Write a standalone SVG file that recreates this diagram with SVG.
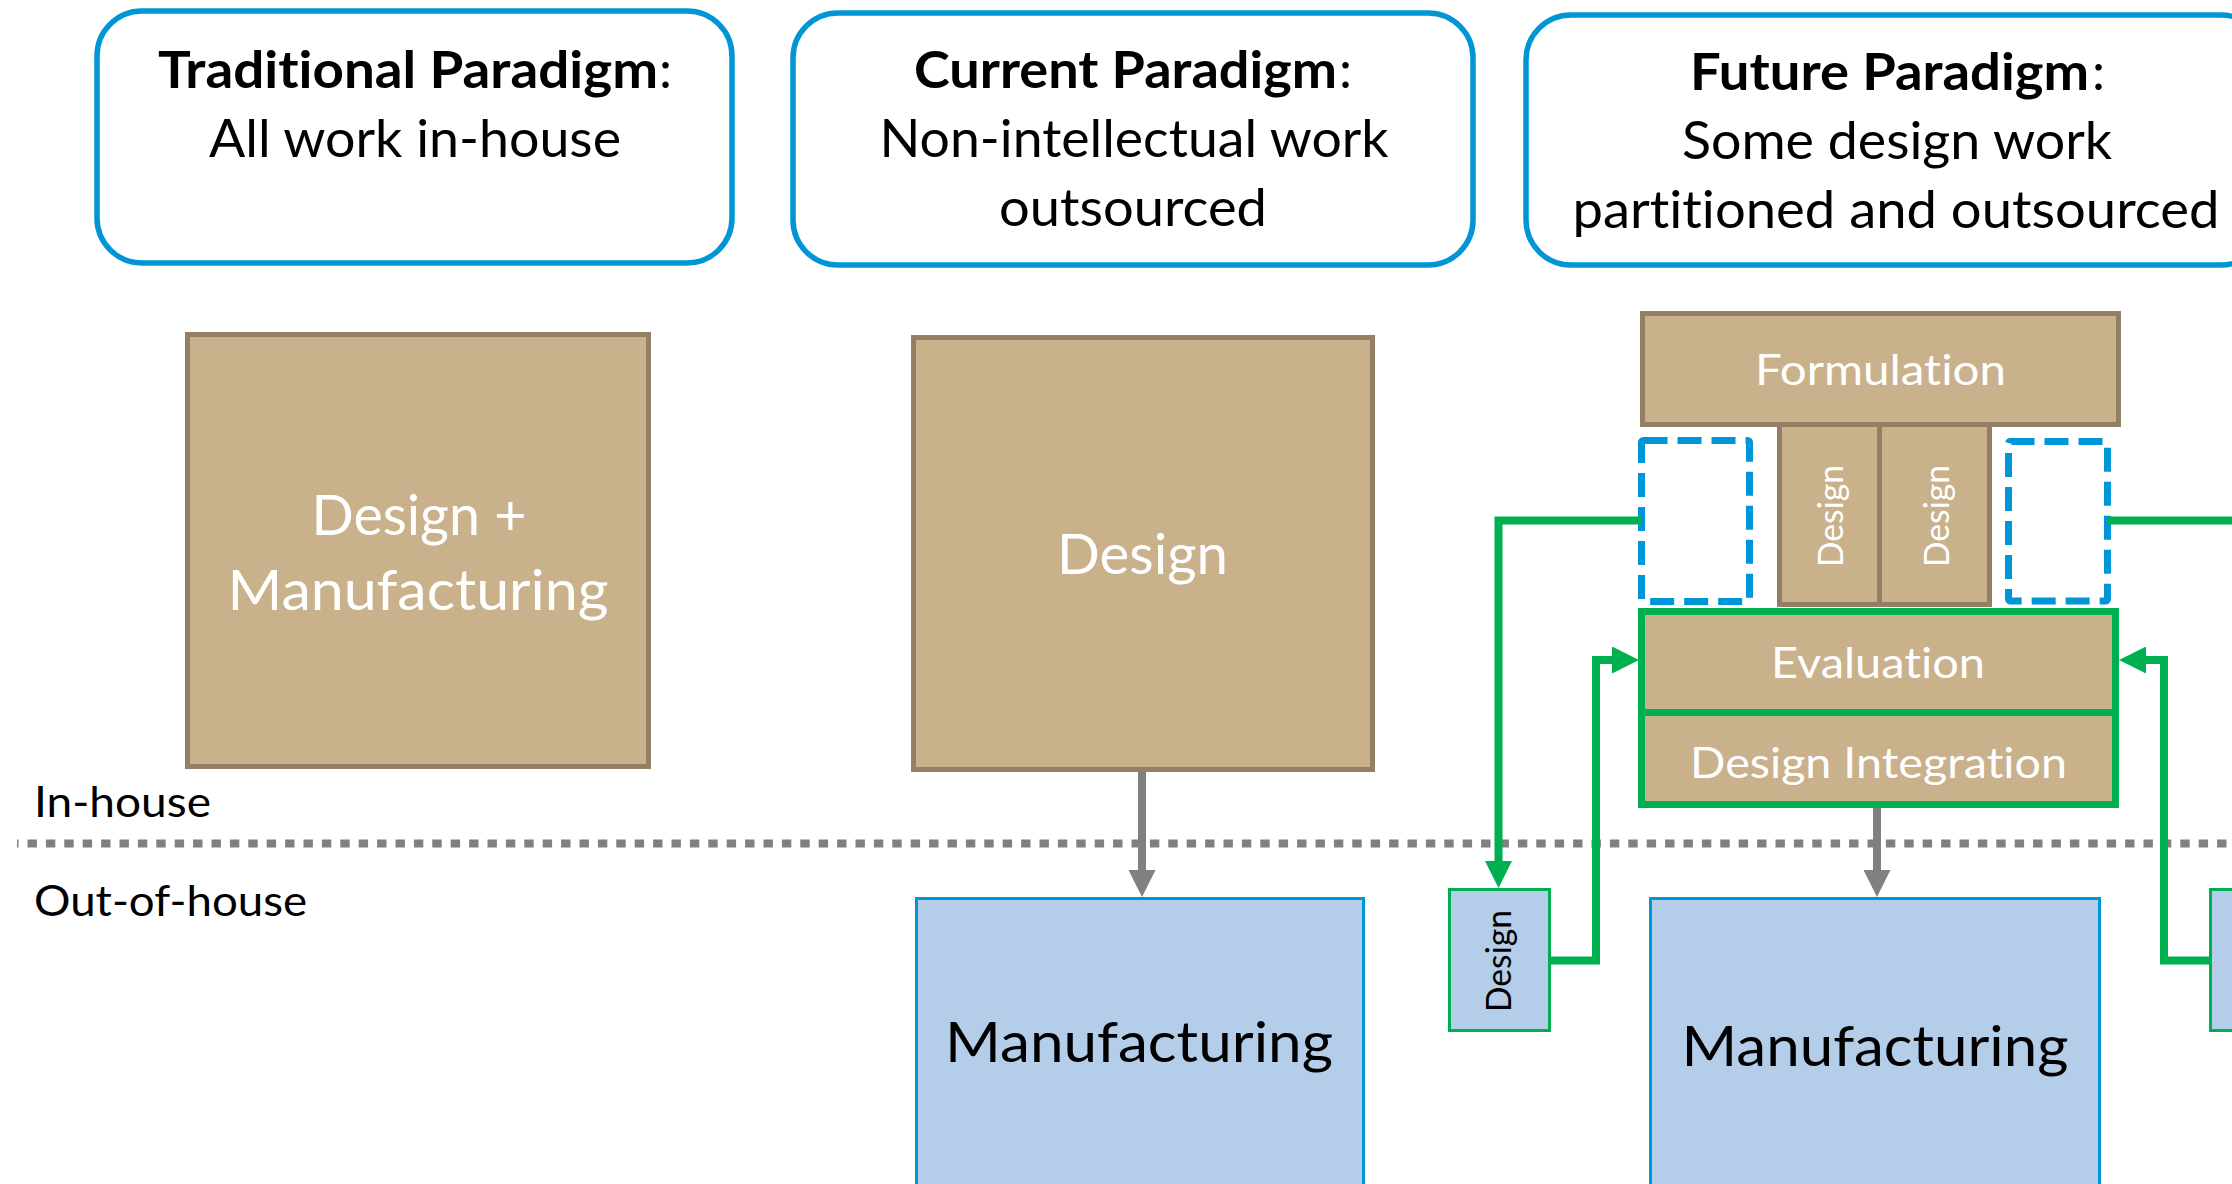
<svg xmlns="http://www.w3.org/2000/svg" width="2232" height="1184" viewBox="0 0 2232 1184">
  <style>
    text { font-family: Lato, "Liberation Sans", sans-serif; font-variant-ligatures: none; font-feature-settings: "liga" 0, "clig" 0; }
    .hdr { fill: #ffffff; stroke: #0096D6; stroke-width: 5.5; }
    .tan { fill: #C9B18C; stroke: #937F63; stroke-width: 5; }
    .tanG { fill: #C9B18C; stroke: #00B050; stroke-width: 7; }
    .mfg { fill: #B4CDE9; stroke: #0096D6; stroke-width: 3; }
    .ext { fill: #B4CDE9; stroke: #00B050; stroke-width: 3; }
    .slot { fill: none; stroke: #0096D6; stroke-width: 7; stroke-dasharray: 24 10; stroke-linejoin: round; }
    .h { font-size: 52px; fill: #000000; }
    .hb { font-weight: bold; }
    .big { font-size: 56px; }
    .mid { font-size: 43px; fill: #ffffff; }
    .vt { font-size: 35px; }
    .zone { font-size: 42px; fill: #000000; }
    .white { fill: #ffffff; }
    .black { fill: #000000; }
    .flow { fill: none; stroke: #00B050; stroke-width: 8; stroke-linejoin: miter; }
    .hand { fill: none; stroke: #808080; stroke-width: 8; }
    .divline { fill: none; stroke: #808080; stroke-width: 8; stroke-dasharray: 9.4 9; stroke-dashoffset: 7.9; }
  </style>
  <defs>
    <marker id="arrowGreen" markerUnits="userSpaceOnUse" markerWidth="27" markerHeight="27" refX="0" refY="13.5" orient="auto">
      <path d="M0,0 L27,13.5 L0,27 Z" fill="#00B050"/>
    </marker>
    <marker id="arrowGray" markerUnits="userSpaceOnUse" markerWidth="27" markerHeight="27" refX="0" refY="13.5" orient="auto">
      <path d="M0,0 L27,13.5 L0,27 Z" fill="#808080"/>
    </marker>
  </defs>

  <!-- in-house / out-of-house boundary -->
  <g id="boundary">
    <path class="divline" d="M17,843.5 H2232"/>
    <text class="zone" x="34" y="817" textLength="177" lengthAdjust="spacingAndGlyphs">In-house</text>
    <text class="zone" x="34" y="916" textLength="273" lengthAdjust="spacingAndGlyphs">Out-of-house</text>
  </g>

  <!-- paradigm headers -->
  <g id="header-traditional">
    <rect class="hdr" x="97" y="11" width="635" height="252" rx="45"/>
    <text class="h" x="158" y="88"><tspan class="hb" textLength="500" lengthAdjust="spacingAndGlyphs">Traditional Paradigm</tspan><tspan x="659">:</tspan></text>
    <text class="h" x="415" y="157" text-anchor="middle" textLength="412" lengthAdjust="spacingAndGlyphs">All work in-house</text>
  </g>
  <g id="header-current">
    <rect class="hdr" x="793" y="13" width="680" height="252" rx="45"/>
    <text class="h" x="914" y="88"><tspan class="hb" textLength="423" lengthAdjust="spacingAndGlyphs">Current Paradigm</tspan><tspan x="1339">:</tspan></text>
    <text class="h" x="1134" y="157" text-anchor="middle" textLength="509" lengthAdjust="spacingAndGlyphs">Non-intellectual work</text>
    <text class="h" x="1133" y="226" text-anchor="middle" textLength="268" lengthAdjust="spacingAndGlyphs">outsourced</text>
  </g>
  <g id="header-future">
    <rect class="hdr" x="1526" y="15" width="740" height="250" rx="45"/>
    <text class="h" x="1690" y="90"><tspan class="hb" textLength="399" lengthAdjust="spacingAndGlyphs">Future Paradigm</tspan><tspan x="2092">:</tspan></text>
    <text class="h" x="1897" y="159" text-anchor="middle" textLength="430" lengthAdjust="spacingAndGlyphs">Some design work</text>
    <text class="h" x="1896" y="228" text-anchor="middle" textLength="647" lengthAdjust="spacingAndGlyphs">partitioned and outsourced</text>
  </g>

  <!-- traditional: everything in-house -->
  <g id="design-manufacturing">
    <rect class="tan" x="187.5" y="334.5" width="461" height="432"/>
    <text class="big white" x="419" y="535" text-anchor="middle" textLength="215" lengthAdjust="spacingAndGlyphs">Design +</text>
    <text class="big white" x="418" y="610" text-anchor="middle" textLength="381" lengthAdjust="spacingAndGlyphs">Manufacturing</text>
  </g>

  <!-- current: design in-house, manufacturing outsourced -->
  <g id="design-current">
    <rect class="tan" x="913.5" y="337.5" width="459" height="432"/>
    <text class="big white" x="1142.5" y="574" text-anchor="middle" textLength="171" lengthAdjust="spacingAndGlyphs">Design</text>
  </g>
  <g id="manufacturing-current">
    <rect class="mfg" x="916.5" y="898.5" width="447" height="300"/>
    <text class="big black" x="1139" y="1062" text-anchor="middle" textLength="388" lengthAdjust="spacingAndGlyphs">Manufacturing</text>
  </g>

  <!-- future: partitioned design -->
  <g id="design-slot-a">
    <rect class="tan" x="1779.5" y="424" width="100" height="180.5"/>
    <text class="vt white" transform="translate(1843,516) rotate(-90)" text-anchor="middle" textLength="102" lengthAdjust="spacingAndGlyphs">Design</text>
  </g>
  <g id="design-slot-b">
    <rect class="tan" x="1879.5" y="424" width="110" height="180.5"/>
    <text class="vt white" transform="translate(1949,516) rotate(-90)" text-anchor="middle" textLength="102" lengthAdjust="spacingAndGlyphs">Design</text>
  </g>
  <g id="formulation">
    <rect class="tan" x="1642.5" y="313.5" width="476" height="111"/>
    <text class="mid" x="1880.5" y="385" text-anchor="middle" textLength="251" lengthAdjust="spacingAndGlyphs">Formulation</text>
  </g>
  <g id="open-slot-left">
    <rect class="slot" x="1641.5" y="440.5" width="108" height="161" rx="2"/>
  </g>
  <g id="open-slot-right">
    <rect class="slot" x="2008.5" y="441.5" width="99" height="159.5" rx="2"/>
  </g>
  <g id="evaluation">
    <rect class="tanG" x="1641.5" y="611.5" width="474" height="101"/>
    <text class="mid" x="1878" y="678" text-anchor="middle" textLength="214" lengthAdjust="spacingAndGlyphs">Evaluation</text>
  </g>
  <g id="design-integration">
    <rect class="tanG" x="1641.5" y="712.5" width="474" height="92"/>
    <text class="mid" x="1878.5" y="778" text-anchor="middle" textLength="377" lengthAdjust="spacingAndGlyphs">Design Integration</text>
  </g>
  <g id="manufacturing-future">
    <rect class="mfg" x="1650.5" y="898.5" width="449" height="300"/>
    <text class="big black" x="1875" y="1066" text-anchor="middle" textLength="387" lengthAdjust="spacingAndGlyphs">Manufacturing</text>
  </g>
  <g id="design-outsourced-left">
    <rect class="ext" x="1449.5" y="889.5" width="100" height="141"/>
    <text class="vt black" transform="translate(1511,961) rotate(-90)" text-anchor="middle" textLength="102" lengthAdjust="spacingAndGlyphs">Design</text>
  </g>
  <g id="design-outsourced-right">
    <rect class="ext" x="2210.5" y="889.5" width="100" height="141"/>
  </g>

  <!-- connectors -->
  <g id="connectors">
    <path class="hand" d="M1142,772 V870" marker-end="url(#arrowGray)"/>
    <path class="hand" d="M1877,808 V870" marker-end="url(#arrowGray)"/>
    <path class="flow" d="M1642,520.5 H1498.5 V861" marker-end="url(#arrowGreen)"/>
    <path class="flow" d="M1550,960.5 H1596 V660 H1612" marker-end="url(#arrowGreen)"/>
    <path class="flow" d="M2210,960.5 H2164 V660 H2146" marker-end="url(#arrowGreen)"/>
    <path class="flow" d="M2108,520.5 H2240"/>
  </g>
</svg>
